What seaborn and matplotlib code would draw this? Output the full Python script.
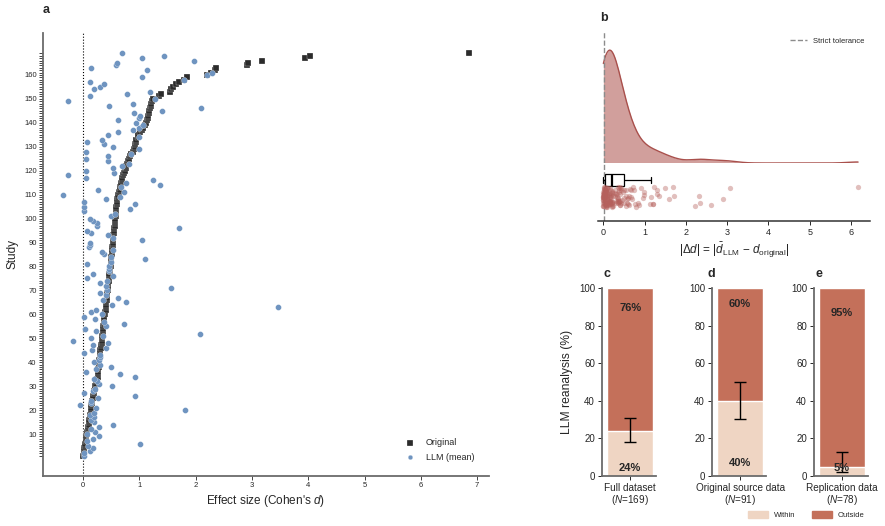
import numpy as np
import matplotlib
matplotlib.use("Agg")
import matplotlib.pyplot as plt
import seaborn as sns
import pandas as pd
from matplotlib.patches import Patch
from matplotlib.lines import Line2D

# panel a: effect sizes per study (studies ordered by original d)
original_d = [
    0.00, 0.01, 0.02, 0.02, 0.03, 0.04, 0.05, 0.06, 0.06, 0.07,
    0.08, 0.09, 0.09, 0.10, 0.11, 0.11, 0.12, 0.13, 0.14, 0.14,
    0.15, 0.15, 0.16, 0.16, 0.17, 0.18, 0.19, 0.20, 0.21, 0.22,
    0.24, 0.25, 0.25, 0.26, 0.26, 0.27, 0.27, 0.28, 0.28, 0.29,
    0.29, 0.30, 0.30, 0.31, 0.31, 0.32, 0.32, 0.33, 0.33, 0.34,
    0.34, 0.35, 0.35, 0.36, 0.36, 0.37, 0.37, 0.38, 0.38, 0.39,
    0.39, 0.40, 0.40, 0.41, 0.41, 0.42, 0.42, 0.43, 0.43, 0.44,
    0.44, 0.45, 0.45, 0.46, 0.46, 0.47, 0.47, 0.48, 0.48, 0.49,
    0.49, 0.50, 0.50, 0.50, 0.51, 0.51, 0.52, 0.52, 0.53, 0.53,
    0.54, 0.54, 0.54, 0.55, 0.55, 0.55, 0.56, 0.56, 0.57, 0.57,
    0.58, 0.58, 0.58, 0.59, 0.59, 0.60, 0.60, 0.61, 0.62, 0.63,
    0.64, 0.65, 0.66, 0.67, 0.68, 0.69, 0.70, 0.71, 0.73, 0.74,
    0.76, 0.77, 0.79, 0.80, 0.82, 0.84, 0.86, 0.88, 0.90, 0.92,
    0.93, 0.94, 0.95, 0.97, 0.98, 1.01, 1.04, 1.07, 1.10, 1.12,
    1.14, 1.15, 1.16, 1.17, 1.18, 1.19, 1.20, 1.21, 1.23, 1.25,
    1.35, 1.39, 1.54, 1.56, 1.60, 1.66, 1.70, 1.80, 1.85, 2.20,
    2.28, 2.34, 2.37, 2.91, 2.93, 3.18, 3.94, 4.03, 6.86,
]
llm_mean_d = [
    0.01, 0.01, 0.12, 0.18, 0.09, 1.01, 0.08, 0.17, 0.28, 0.07,
    0.22, 0.15, 0.28, 0.53, 0.20, 0.14, 0.19, 0.12, 0.20, 1.82,
    0.24, -0.05, 0.15, 0.14, 0.27, 0.92, 0.01, 0.18, 0.21, 0.51,
    0.28, 0.25, 0.20, 0.93, 0.66, 0.06, 0.24, 0.50, 0.30, 0.20,
    0.29, 0.30, 0.30, 0.01, 0.16, 0.40, 0.18, 0.45, -0.17, 0.14,
    0.36, 2.07, 0.24, 0.04, 0.40, 0.72, 0.38, 0.21, 0.02, 0.34,
    0.15, 0.24, 3.46, 0.51, 0.76, 0.36, 0.62, 0.41, 0.30, 0.43,
    1.57, 0.41, 0.30, 0.43, 0.07, 0.54, 0.18, 0.47, 0.47, 0.47,
    0.07, 0.49, 1.11, 0.49, 0.37, 0.34, 0.53, 0.10, 0.12, 0.13,
    1.04, 0.54, 0.45, 0.14, 0.07, 1.70, 0.25, 0.25, 0.18, 0.13,
    0.49, 0.57, 0.01, 0.83, 0.01, 0.93, 0.01, 0.41, 0.66, -0.36,
    0.72, 0.27, 0.68, 1.36, 0.77, 1.25, 0.06, -0.27, 0.55, 0.06,
    0.54, 0.69, 0.82, 0.44, 0.05, 0.44, 0.86, 0.05, 1.00, 0.54,
    0.37, 0.08, 0.34, 1.00, 0.44, 0.62, 0.88, 1.00, 1.07, 0.94,
    0.63, 1.00, 1.01, 0.90, 1.40, 2.10, 0.47, 0.88, -0.26, 1.27,
    0.12, 0.79, 1.19, 0.20, 0.30, 0.37, 0.12, 1.80, 1.05, 2.20,
    2.29, 1.13, 0.14, 0.59, 0.60, 1.98, 1.04, 1.43, 0.69,
]
strict_tolerance = 0.02

# panels c-e: share of LLM reanalyses within the strict tolerance
subset_names = ["Full dataset", "Original source data", "Replication data"]
subset_n = [169, 91, 78]
within_pct = [24, 40, 5]
outside_pct = [76, 60, 95]
within_ci_low = [18.1, 30.1, 2.1]
within_ci_high = [30.7, 49.8, 12.6]
panel_letters = ["c", "d", "e"]

sns.set_style("ticks")
plt.rcParams["font.family"] = ["Liberation Sans", "DejaVu Sans"]
plt.rcParams["mathtext.fontset"] = "custom"
plt.rcParams["mathtext.rm"] = "Liberation Sans"
plt.rcParams["mathtext.it"] = "Liberation Sans:italic"
plt.rcParams["mathtext.bf"] = "Liberation Sans:bold"

fig = plt.figure(figsize=(8.85, 5.26), dpi=100)
W, H = 885, 526


def px_axes(left, top, right, bottom):
    return fig.add_axes([left / W, 1 - bottom / H, (right - left) / W, (bottom - top) / H])


spine_col = "#6b6b6b"
blue = "#6f94c0"
dark = "#2b2b2b"
red_line = "#a9504c"
red_fill = "#c98e8b"
within_col = "#efd5c3"
outside_col = "#c4705a"

# ---- panel a
study = np.arange(1, len(original_d) + 1)
df_a = pd.DataFrame({"study": study, "orig": original_d, "llm": llm_mean_d})
ax_a = px_axes(43, 33, 489, 476)
ax_a.axvline(0, color="black", ls=":", lw=0.8, zorder=0)
sns.scatterplot(data=df_a, x="orig", y="study", marker="s", s=24, color=dark,
                edgecolor="white", linewidth=0.2, label="Original", ax=ax_a, zorder=3)
sns.scatterplot(data=df_a, x="llm", y="study", marker="o", s=18, color=blue,
                edgecolor="white", linewidth=0.2, label="LLM (mean)", ax=ax_a, zorder=4)
ax_a.set_xlim(-0.71, 7.21)
ax_a.set_ylim(-7.5, 177.5)
ax_a.set_yticks(np.arange(10, 161, 10))
ax_a.set_yticks(study, minor=True)
ax_a.set_xticks(range(0, 8))
ax_a.tick_params(axis="both", which="both", labelsize=5.5, length=3, width=0.6, pad=1.5)
sns.despine(ax=ax_a)
for sp in ["left", "bottom"]:
    ax_a.spines[sp].set_color(spine_col)
    ax_a.spines[sp].set_linewidth(1.3)
ax_a.set_xlabel("Effect size (Cohen's $d$)", fontsize=8.5, labelpad=3)
ax_a.set_ylabel("Study", fontsize=8.5, labelpad=4)
ax_a.legend(loc="lower right", frameon=False, fontsize=6.5, handletextpad=0.8,
            borderaxespad=1.2, labelspacing=0.6, markerscale=0.8)

# ---- panel b
delta = np.abs(np.array(llm_mean_d) - np.array(original_d))
ax_k = px_axes(598, 32, 870, 163)
sns.kdeplot(x=delta, cut=0, fill=True, color=red_fill, alpha=0.85, linewidth=0, ax=ax_k)
sns.kdeplot(x=delta, cut=0, color=red_line, linewidth=1.0, ax=ax_k)
peak = ax_k.lines[-1].get_ydata().max()
ax_k.set_ylim(0, peak * 1.16)
ax_k.set_xlim(-0.13, 6.46)
ax_k.axvline(strict_tolerance, color="#8c8c8c", ls="--", lw=1.0)
ax_k.axis("off")
ax_k.legend(handles=[Line2D([], [], color="#8c8c8c", ls="--", lw=1.0)],
            labels=["Strict tolerance"], loc="upper right", frameon=False,
            fontsize=5.5, borderaxespad=0.3, handlelength=2.2)

ax_s = px_axes(598, 163, 870, 221)
box_df = pd.DataFrame({"delta": delta, "row": "box"})
strip_df = pd.DataFrame({"delta": delta, "row": "strip"})
sns.boxplot(data=box_df, x="delta", y="row", order=["box", "strip"], width=0.7,
            showfliers=False, color="white", linecolor="black", linewidth=0.9,
            medianprops={"linewidth": 1.6}, ax=ax_s)
np.random.seed(7)
sns.stripplot(data=strip_df, x="delta", y="row", order=["box", "strip"], jitter=0.6,
              color="#b5605c", alpha=0.4, size=3.8, linewidth=0, ax=ax_s)
ax_s.axvline(strict_tolerance, color="#8c8c8c", ls="--", lw=1.0, zorder=0)
ax_s.set_ylim(2.41, -1.0)
ax_s.set_xlim(-0.13, 6.46)
ax_s.set_yticks([])
ax_s.set_ylabel("")
ax_s.set_xticks(range(0, 7))
sns.despine(ax=ax_s, left=True)
ax_s.spines["bottom"].set_color("#333333")
ax_s.spines["bottom"].set_linewidth(1.1)
ax_s.tick_params(axis="x", labelsize=6.5, length=3, width=0.7, pad=2)
ax_s.set_xlabel(r"$|\Delta d|$ = $|\bar{d}_{\mathrm{LLM}}$ $-$ $d_{\mathrm{original}}|$",
                fontsize=8.5, labelpad=3)

# ---- panels c-e
lefts = [602, 712, 814]
for i, left in enumerate(lefts):
    ax = px_axes(left, 288, left + 54, 476)
    sub = pd.DataFrame({"subset": [subset_names[i]],
                        "total": [within_pct[i] + outside_pct[i]],
                        "within": [within_pct[i]]})
    sns.barplot(data=sub, x="subset", y="total", color=outside_col, saturation=1,
                width=0.86, ax=ax)
    sns.barplot(data=sub, x="subset", y="within", color=within_col, saturation=1,
                width=0.86, edgecolor="white", linewidth=1.0, ax=ax)
    ax.errorbar(0, within_pct[i],
                yerr=[[within_pct[i] - within_ci_low[i]], [within_ci_high[i] - within_pct[i]]],
                color="black", lw=1.0, capsize=4, capthick=1.0)
    out_y = [89.2, 91.5, 86.5][i]
    in_y = [4.1, 6.7, 4.1][i]
    ax.text(0, out_y, f"{outside_pct[i]}%", ha="center", va="center",
            fontsize=8, weight="bold")
    ax.text(0, in_y, f"{within_pct[i]}%", ha="center", va="center",
            fontsize=8, weight="bold")
    ax.set_xlim(-0.52, 0.48)
    ax.set_ylim(0, 100)
    ax.set_yticks(range(0, 101, 20))
    ax.set_xticks([0])
    ax.set_xticklabels([f"{subset_names[i]}\n($N$={subset_n[i]})"], fontsize=7.2,
                       linespacing=1.0)
    ax.set_xlabel("")
    ax.set_ylabel("LLM reanalysis (%)" if i == 0 else "", fontsize=8.7, labelpad=4)
    sns.despine(ax=ax)
    for sp in ["left", "bottom"]:
        ax.spines[sp].set_color(spine_col)
        ax.spines[sp].set_linewidth(1.3)
    ax.tick_params(axis="both", labelsize=7, length=3, width=0.7, pad=2)
    ax.tick_params(axis="x", labelsize=7.2)

fig.legend(handles=[Patch(color=within_col), Patch(color=outside_col)],
           labels=["Within", "Outside"], loc="lower right", bbox_to_anchor=(0.985, 0.0),
           ncol=2, frameon=False, fontsize=5.5, handlelength=2.6, handleheight=1.0,
           columnspacing=2.2)

# panel letters
for letter, (x, y) in zip(["a", "b"] + panel_letters,
                          [(43, 10), (600, 18), (604, 274), (708, 274), (815, 274)]):
    fig.text(x / W, 1 - y / H, letter, fontsize=9, weight="bold", va="center")

fig.savefig("out.png", dpi=100)
